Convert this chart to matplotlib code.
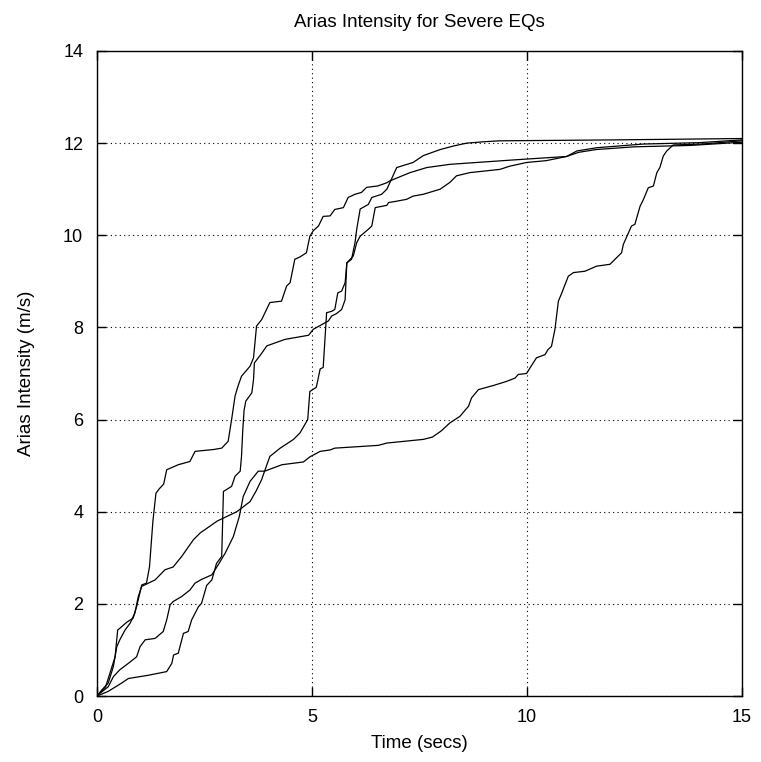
"""
Cumulative Arias intensity for five severe earthquake records.
"""

import matplotlib
matplotlib.use("Agg")
import matplotlib.pyplot as plt

plt.rcParams["font.family"] = ["Liberation Sans", "DejaVu Sans"]

# (time [s], Arias intensity [m/s])
quake_a_t = [0, 0.2, 0.42, 0.48, 0.69, 0.84, 0.92, 1.04, 1.15, 1.22, 1.3, 1.37,
             1.45, 1.55, 1.62, 1.89, 2.16, 2.28, 2.71, 2.9, 3.05, 3.13, 3.21,
             3.28, 3.36, 3.56, 3.64, 3.71, 3.83, 4.02, 4.29, 4.41, 4.49, 4.6,
             4.72, 4.87, 4.95, 5.03, 5.15, 5.26, 5.42, 5.53, 5.73, 5.84, 6.0,
             6.15, 6.27, 6.53, 6.74, 6.81, 7.28, 7.67, 7.98, 8.21, 9.76, 10.92,
             11.16, 11.62, 12.7, 14.0, 15.0]
quake_a_v = [0, 0.2, 0.85, 1.43, 1.6, 1.69, 1.94, 2.41, 2.45, 2.8, 3.8, 4.4,
             4.5, 4.6, 4.91, 5.02, 5.09, 5.31, 5.35, 5.38, 5.53, 6.0, 6.51,
             6.73, 6.94, 7.16, 7.34, 8.03, 8.17, 8.54, 8.57, 8.9, 8.97, 9.48,
             9.53, 9.62, 9.98, 10.1, 10.2, 10.41, 10.42, 10.56, 10.6, 10.82, 10.89,
             10.93, 11.04, 11.07, 11.14, 11.18, 11.36, 11.47, 11.51, 11.54, 11.64, 11.71,
             11.83, 11.9, 11.98, 12.01, 12.07]

quake_b_t = [0, 0.26, 0.57, 0.73, 1.19, 1.62, 1.74, 1.78, 1.89, 2.01, 2.12, 2.2,
             2.36, 2.43, 2.55, 2.67, 2.78, 2.9, 2.94, 3.13, 3.21, 3.33, 3.36,
             3.39, 3.42, 3.46, 3.6, 3.64, 3.66, 3.8, 3.95, 4.37, 4.92, 5.03,
             5.38, 5.46, 5.57, 5.69, 5.77, 5.81, 5.92, 6.0, 6.04, 6.12, 6.31,
             6.39, 6.62, 6.74, 6.81, 6.97, 7.35, 7.59, 7.98, 8.3, 8.6, 9.0,
             9.37, 12.0, 15.0]
quake_b_v = [0, 0.1, 0.28, 0.38, 0.45, 0.53, 0.71, 0.89, 0.93, 1.36, 1.4, 1.65,
             1.94, 2.01, 2.4, 2.52, 2.88, 3.03, 4.44, 4.55, 4.77, 4.88, 5.2,
             5.78, 6.2, 6.4, 6.58, 6.87, 7.23, 7.4, 7.6, 7.74, 7.83, 7.96,
             8.14, 8.25, 8.3, 8.39, 8.6, 9.4, 9.48, 9.84, 10.13, 10.57, 10.67,
             10.82, 10.89, 11.0, 11.14, 11.47, 11.58, 11.73, 11.86, 11.94, 12.0, 12.03,
             12.05, 12.07, 12.1]

quake_c_t = [0, 0.07, 0.26, 0.38, 0.53, 0.73, 0.92, 1.0, 1.12, 1.35, 1.54, 1.62,
             1.7, 1.77, 1.97, 2.16, 2.28, 2.43, 2.67, 2.82, 2.98, 3.17, 3.31,
             3.4, 3.56, 3.75, 3.9, 4.3, 4.8, 4.95, 5.19, 5.42, 5.53, 6.54,
             6.74, 7.59, 7.8, 8.0, 8.21, 8.44, 8.64, 8.71, 8.87, 9.22, 9.53,
             9.72, 9.8, 9.99, 10.07, 10.22, 10.42, 10.49, 10.57, 10.65, 10.73, 10.81,
             10.96, 11.08, 11.35, 11.62, 11.93, 12.08, 12.2, 12.24, 12.43, 12.51, 12.63,
             12.71, 12.82, 12.94, 13.02, 13.09, 13.17, 13.25, 13.4, 14.06, 15.0]
quake_c_v = [0, 0.06, 0.2, 0.42, 0.57, 0.71, 0.85, 1.07, 1.22, 1.25, 1.4, 1.65,
             1.98, 2.05, 2.16, 2.3, 2.45, 2.53, 2.63, 2.85, 3.1, 3.46, 3.9,
             4.33, 4.66, 4.88, 4.88, 5.02, 5.08, 5.19, 5.31, 5.34, 5.38, 5.44,
             5.49, 5.57, 5.62, 5.75, 5.93, 6.07, 6.29, 6.47, 6.65, 6.74, 6.83,
             6.9, 6.98, 7.0, 7.12, 7.34, 7.41, 7.52, 7.59, 7.96, 8.57, 8.75,
             9.11, 9.19, 9.22, 9.33, 9.37, 9.51, 9.62, 9.8, 10.2, 10.24, 10.63,
             10.78, 11.03, 11.07, 11.36, 11.47, 11.72, 11.83, 11.96, 11.98, 12.05]

quake_e_t = [0, 0.11, 0.26, 0.38, 0.46, 0.53, 0.65, 0.77, 0.88, 0.96, 1.04, 1.35,
             1.58, 1.77, 1.97, 2.24, 2.4, 2.8, 3.25, 3.56, 3.7, 3.83, 3.95,
             4.02, 4.26, 4.57, 4.72, 4.9, 4.95, 5.1, 5.19, 5.26, 5.34, 5.46,
             5.53, 5.6, 5.69, 5.77, 5.81, 5.96, 6.04, 6.12, 6.31, 6.39, 6.47,
             6.74, 6.78, 6.97, 7.2, 7.35, 7.59, 7.98, 8.21, 8.36, 8.67, 9.37,
             9.6, 9.99, 10.45, 10.92, 11.2, 11.6, 12.5, 13.8, 15.0]
quake_e_v = [0, 0.13, 0.28, 0.64, 1.07, 1.22, 1.43, 1.58, 1.8, 2.16, 2.38, 2.52,
             2.74, 2.8, 3.03, 3.39, 3.54, 3.8, 4.0, 4.22, 4.45, 4.7, 5.02,
             5.2, 5.38, 5.57, 5.71, 6.0, 6.61, 6.7, 7.1, 7.13, 8.32, 8.35,
             8.39, 8.75, 8.79, 8.97, 9.4, 9.55, 9.84, 9.98, 10.13, 10.2, 10.6,
             10.65, 10.71, 10.74, 10.78, 10.85, 10.89, 11.0, 11.15, 11.29, 11.36, 11.43,
             11.5, 11.58, 11.62, 11.71, 11.8, 11.86, 11.92, 11.95, 12.02]

records = [
    (quake_a_t, quake_a_v),
    (quake_b_t, quake_b_v),
    (quake_c_t, quake_c_v),
    (quake_e_t, quake_e_v),
]

x_ticks = [0, 5, 10, 15]
y_ticks = [0, 2, 4, 6, 8, 10, 12, 14]


def setup_axes():
    """
    Gnuplot-like frame: inward mirrored ticks and a dotted grid.
    """
    fig = plt.figure(figsize=(7.61, 7.62), dpi=100)
    ax = fig.add_axes([0.1275, 0.0866, 0.8475, 0.8465])

    ax.set_xlim(0, 15)
    ax.set_ylim(0, 14)
    ax.set_xticks(x_ticks)
    ax.set_yticks(y_ticks)
    ax.tick_params(direction="in", length=6.5, width=1.0, top=True, right=True,
                   labelsize=13, pad=10, colors="black")
    ax.tick_params(axis="x", pad=9)

    ax.grid(True, linestyle=(0, (1, 3)), color="black", linewidth=0.8)

    for spine in ax.spines.values():
        spine.set_linewidth(1.0)

    ax.set_xlabel("Time (secs)", fontsize=13.5, labelpad=7)
    ax.set_ylabel("Arias Intensity (m/s)", fontsize=13.5, labelpad=20)
    ax.set_title("Arias Intensity for Severe EQs", fontsize=13.5, pad=17)

    return fig, ax


fig, ax = setup_axes()
for t, v in records:
    ax.plot(t, v, color="black", linewidth=0.9)

fig.savefig("out.png", dpi=100)
